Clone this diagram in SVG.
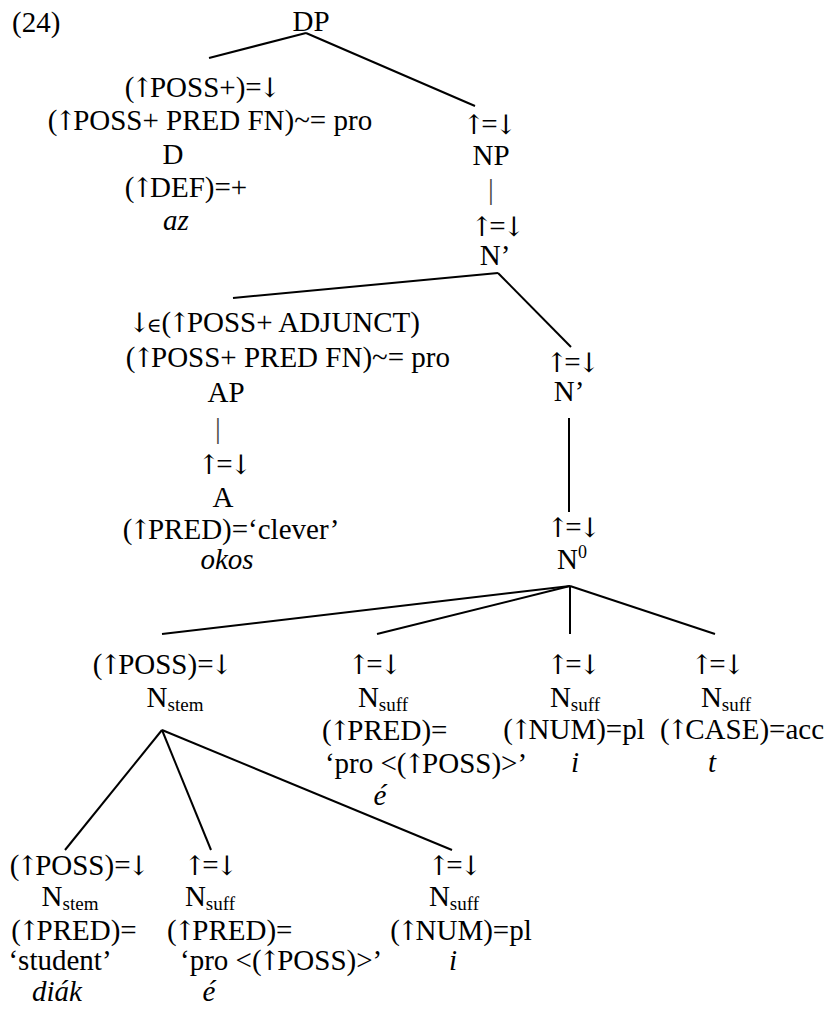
<svg xmlns="http://www.w3.org/2000/svg" width="828" height="1013" viewBox="0 0 828 1013">
  <style>
    text { font-family: "Liberation Serif", "Times New Roman", serif; font-size: 29px; fill: #000; text-anchor: middle; }
    .s { text-anchor: start; }
    .e { text-anchor: end; }
    .i { font-style: italic; }
    .ar { font-family: "DejaVu Serif", serif; font-size: 27px; letter-spacing: -4px; }
    .k { letter-spacing: -3px; }
    .el { font-family: "DejaVu Serif", serif; font-size: 20px; }
    .bar { fill: #444; }
    .sub { font-size: 19px; }
    .sup { font-size: 18px; }
    .edge { stroke: #000; stroke-width: 2; fill: none; stroke-linecap: butt; }
  </style>
  <rect width="828" height="1013" fill="#fff"/>

  <!-- tree branches -->
  <g id="connectors">
    <line class="edge" x1="306" y1="33" x2="209" y2="58"/>
    <line class="edge" x1="306" y1="33" x2="475" y2="106"/>
    <line class="edge" x1="498" y1="273" x2="233" y2="298"/>
    <line class="edge" x1="498" y1="273" x2="571" y2="347"/>
    <line class="edge" x1="569" y1="418" x2="569" y2="512"/>
    <line class="edge" x1="570" y1="586" x2="162" y2="634"/>
    <line class="edge" x1="570" y1="586" x2="377" y2="634"/>
    <line class="edge" x1="570" y1="586" x2="570" y2="634"/>
    <line class="edge" x1="570" y1="586" x2="715" y2="634"/>
    <line class="edge" x1="162" y1="730" x2="65" y2="850"/>
    <line class="edge" x1="162" y1="730" x2="211" y2="850"/>
    <line class="edge" x1="162" y1="730" x2="452" y2="850"/>
  </g>

  <g id="example-number">
    <text class="s" x="12" y="32">(24)</text>
  </g>

  <g id="dp">
    <text x="311" y="31">DP</text>
  </g>

  <g id="d">
    <text x="201" y="97"><tspan class="k">(</tspan><tspan class="ar">↑</tspan>POSS+)<tspan class="k">=</tspan><tspan class="ar">↓</tspan></text>
    <text x="210" y="130"><tspan class="k">(</tspan><tspan class="ar">↑</tspan>POSS+ PRED FN)~= pro</text>
    <text x="173" y="164">D</text>
    <text x="186" y="197"><tspan class="k">(</tspan><tspan class="ar">↑</tspan>DEF)=+</text>
    <text class="i" x="176" y="230">az</text>
  </g>

  <g id="np">
    <text x="488" y="134"><tspan class="ar">↑</tspan><tspan class="k">=</tspan><tspan class="ar">↓</tspan></text>
    <text x="491" y="165">NP</text>
    <text class="bar" x="491" y="199">|</text>
  </g>

  <g id="nbar1">
    <text x="496" y="236"><tspan class="ar">↑</tspan><tspan class="k">=</tspan><tspan class="ar">↓</tspan></text>
    <text x="495" y="265">N’</text>
  </g>

  <g id="ap">
    <text class="e" x="420" y="332"><tspan class="ar">↓</tspan><tspan class="el">∈</tspan><tspan class="k">(</tspan><tspan class="ar">↑</tspan>POSS+ ADJUNCT)</text>
    <text class="e" x="450" y="367"><tspan class="k">(</tspan><tspan class="ar">↑</tspan>POSS+ PRED FN)~= pro</text>
    <text x="226" y="402">AP</text>
    <text class="bar" x="218" y="438">|</text>
  </g>

  <g id="a">
    <text x="223" y="474"><tspan class="ar">↑</tspan><tspan class="k">=</tspan><tspan class="ar">↓</tspan></text>
    <text x="223" y="507">A</text>
    <text x="231" y="539"><tspan class="k">(</tspan><tspan class="ar">↑</tspan>PRED)=‘clever’</text>
    <text class="i" x="227" y="569">okos</text>
  </g>

  <g id="nbar2">
    <text x="571" y="372"><tspan class="ar">↑</tspan><tspan class="k">=</tspan><tspan class="ar">↓</tspan></text>
    <text x="569" y="401">N’</text>
  </g>

  <g id="n0">
    <text x="572" y="537"><tspan class="ar">↑</tspan><tspan class="k">=</tspan><tspan class="ar">↓</tspan></text>
    <text x="572" y="569">N<tspan class="sup" dy="-11">0</tspan></text>
  </g>

  <g id="nstem-upper">
    <text x="161" y="674"><tspan class="k">(</tspan><tspan class="ar">↑</tspan>POSS)<tspan class="k">=</tspan><tspan class="ar">↓</tspan></text>
    <text x="175" y="707">N<tspan class="sub" dy="4">stem</tspan></text>
  </g>

  <g id="nsuff-poss-upper">
    <text x="373" y="674"><tspan class="ar">↑</tspan><tspan class="k">=</tspan><tspan class="ar">↓</tspan></text>
    <text x="383" y="707">N<tspan class="sub" dy="4">suff</tspan></text>
    <text class="s" x="322" y="740"><tspan class="k">(</tspan><tspan class="ar">↑</tspan>PRED)=</text>
    <text x="426" y="773">‘pro &lt;<tspan class="k">(</tspan><tspan class="ar">↑</tspan>POSS)&gt;’</text>
    <text class="i" x="380" y="805">é</text>
  </g>

  <g id="nsuff-num-upper">
    <text x="572" y="674"><tspan class="ar">↑</tspan><tspan class="k">=</tspan><tspan class="ar">↓</tspan></text>
    <text x="575" y="707">N<tspan class="sub" dy="4">suff</tspan></text>
    <text x="574" y="739"><tspan class="k">(</tspan><tspan class="ar">↑</tspan>NUM)=pl</text>
    <text class="i" x="575" y="772">i</text>
  </g>

  <g id="nsuff-case">
    <text x="716" y="674"><tspan class="ar">↑</tspan><tspan class="k">=</tspan><tspan class="ar">↓</tspan></text>
    <text x="726" y="707">N<tspan class="sub" dy="4">suff</tspan></text>
    <text x="742" y="739"><tspan class="k">(</tspan><tspan class="ar">↑</tspan>CASE)=acc</text>
    <text class="i" x="712" y="772">t</text>
  </g>

  <g id="nstem-lower">
    <text x="78" y="875"><tspan class="k">(</tspan><tspan class="ar">↑</tspan>POSS)<tspan class="k">=</tspan><tspan class="ar">↓</tspan></text>
    <text x="70" y="906">N<tspan class="sub" dy="4">stem</tspan></text>
    <text x="74" y="940"><tspan class="k">(</tspan><tspan class="ar">↑</tspan>PRED)=</text>
    <text x="60" y="970">‘student’</text>
    <text class="i" x="57" y="1001">diák</text>
  </g>

  <g id="nsuff-poss-lower">
    <text x="209" y="875"><tspan class="ar">↑</tspan><tspan class="k">=</tspan><tspan class="ar">↓</tspan></text>
    <text x="210" y="906">N<tspan class="sub" dy="4">suff</tspan></text>
    <text class="s" x="167" y="940"><tspan class="k">(</tspan><tspan class="ar">↑</tspan>PRED)=</text>
    <text class="s" x="180" y="970">‘pro &lt;<tspan class="k">(</tspan><tspan class="ar">↑</tspan>POSS)&gt;’</text>
    <text class="i" x="209" y="1001">é</text>
  </g>

  <g id="nsuff-num-lower">
    <text x="453" y="875"><tspan class="ar">↑</tspan><tspan class="k">=</tspan><tspan class="ar">↓</tspan></text>
    <text x="454" y="906">N<tspan class="sub" dy="4">suff</tspan></text>
    <text x="461" y="940"><tspan class="k">(</tspan><tspan class="ar">↑</tspan>NUM)=pl</text>
    <text class="i" x="453" y="970">i</text>
  </g>
</svg>
